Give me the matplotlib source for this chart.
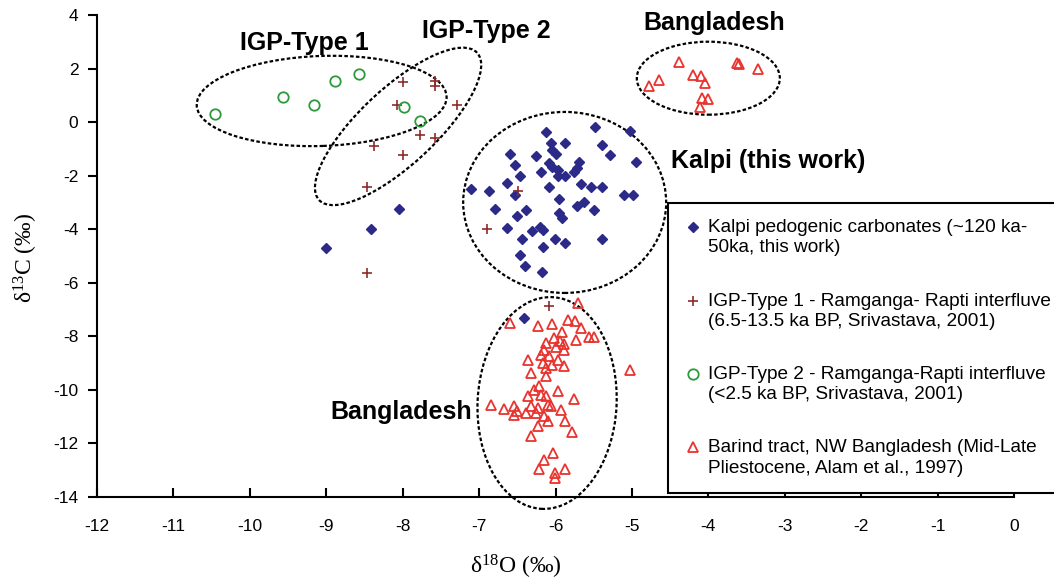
import matplotlib
matplotlib.use('Agg')
import matplotlib.pyplot as plt
import matplotlib.transforms as mtransforms
from matplotlib.patches import Ellipse
from matplotlib.legend_handler import HandlerLine2D

plt.rcParams['font.family'] = ['Liberation Sans', 'DejaVu Sans']
plt.rcParams['axes.unicode_minus'] = False
plt.rcParams['mathtext.fontset'] = 'custom'
plt.rcParams['mathtext.rm'] = 'Liberation Serif'
plt.rcParams['mathtext.it'] = 'Liberation Serif:italic'

# Kalpi pedogenic carbonates (this work)
kalpi_x = [-5.48, -6.13, -5.03, -6.06, -5.88, -5.39, -6.04, -5.99, -6.60, -6.26, -5.29,
           -4.95, -6.53, -6.08, -5.69, -6.04, -5.97, -5.72, -6.19, -5.76, -6.47, -5.97,
           -5.88, -6.64, -6.08, -5.67, -5.54, -5.39, -7.10, -6.87, -6.53, -5.10, -4.98,
           -5.95, -5.63, -5.72, -6.79, -6.39, -5.49, -5.95, -6.50, -5.91, -6.64, -6.31,
           -6.20, -6.17, -6.44, -6.01, -5.88, -5.39, -6.17, -6.47, -6.40, -6.18,
           -8.05, -8.41, -9.00, -6.41]
kalpi_y = [-0.19, -0.38, -0.32, -0.79, -0.79, -0.85, -1.04, -1.19, -1.20, -1.26, -1.22,
           -1.50, -1.62, -1.51, -1.50, -1.66, -1.78, -1.72, -1.85, -1.85, -2.01, -2.01,
           -2.01, -2.26, -2.43, -2.31, -2.43, -2.43, -2.51, -2.56, -2.72, -2.72, -2.74,
           -2.88, -3.00, -3.13, -3.24, -3.30, -3.30, -3.38, -3.50, -3.59, -3.94, -4.05,
           -3.90, -4.02, -4.37, -4.37, -4.52, -4.37, -4.67, -4.98, -5.39, -5.60,
           -3.25, -3.99, -4.71, -7.32]

# IGP-Type 1 (Srivastava, 2001)
igp1_x = [-8.00, -7.58, -7.58, -8.07, -7.29, -7.77, -7.58, -8.37, -7.99, -8.47, -8.47,
          -6.90, -6.49, -6.09]
igp1_y = [1.51, 1.55, 1.33, 0.64, 0.64, -0.49, -0.60, -0.91, -1.22, -2.41, -5.62,
          -3.99, -2.59, -6.88]

# IGP-Type 2 (Srivastava, 2001)
igp2_x = [-10.46, -9.56, -9.16, -8.88, -8.57, -7.98, -7.77]
igp2_y = [0.30, 0.95, 0.64, 1.55, 1.79, 0.58, 0.06]

# Barind tract, NW Bangladesh (Alam et al., 1997)
bang_x = [-5.71, -6.60, -6.23, -6.05, -5.84, -5.75, -5.67, -5.91, -5.56, -5.50, -5.73,
          -6.02, -6.13, -5.94, -5.89, -6.15, -6.00, -5.89, -6.19, -6.08, -6.36, -5.97,
          -6.17, -6.04, -5.89, -6.13, -6.32, -6.13, -5.02, -6.21, -6.28, -5.97, -6.19,
          -6.36, -6.13, -5.76, -6.84, -6.68, -6.54, -6.50, -6.32, -6.23, -6.10, -6.06,
          -5.93, -6.54, -6.39, -6.26, -6.15, -6.10, -5.88, -6.23, -6.32, -5.78, -6.03,
          -6.15, -6.21, -5.88, -6.01, -6.01,
          -4.78, -4.64, -4.38, -4.20, -4.10, -4.05, -4.08, -4.01, -4.11, -3.63, -3.60, -3.35]
bang_y = [-6.76, -7.50, -7.63, -7.53, -7.38, -7.44, -7.69, -7.82, -8.03, -8.03, -8.15,
          -8.06, -8.25, -8.19, -8.28, -8.50, -8.38, -8.50, -8.69, -8.75, -8.87, -8.87,
          -9.00, -9.06, -9.12, -9.18, -9.37, -9.49, -9.27, -9.87, -9.99, -10.05, -10.18,
          -10.24, -10.24, -10.34, -10.55, -10.71, -10.61, -10.80, -10.59, -10.68, -10.55, -10.61,
          -10.76, -10.92, -10.86, -10.86, -10.99, -11.17, -11.17, -11.36, -11.73, -11.58, -12.36,
          -12.60, -12.95, -12.95, -13.10, -13.29,
          1.33, 1.57, 2.23, 1.76, 1.72, 1.45, 0.89, 0.85, 0.58, 2.20, 2.18, 1.97]

legend_labels = [
    'Kalpi pedogenic carbonates (~120 ka-\n50ka, this work)',
    'IGP-Type 1 - Ramganga- Rapti interfluve\n(6.5-13.5 ka BP, Srivastava, 2001)',
    'IGP-Type 2 - Ramganga-Rapti interfluve\n(<2.5 ka BP, Srivastava, 2001)',
    'Barind tract, NW Bangladesh (Mid-Late\nPliestocene, Alam et al., 1997)',
]

# group outlines: centre (data), width/height (px), angle
groups = [
    ((-9.06, 0.79), 250, 90, 2),
    ((-8.06, -0.16), 216, 76, 43),
    ((-5.88, -3.00), 203, 181, 0),
    ((-4.00, 1.64), 143, 73, 0),
    ((-6.11, -10.49), 139, 212, -3),
]
group_labels = [
    ('IGP-Type 1', -9.28, 2.97),
    ('IGP-Type 2', -6.90, 3.41),
    ('Bangladesh', -3.92, 3.71),
    ('Kalpi (this work)', -3.22, -1.47),
    ('Bangladesh', -8.02, -10.84),
]

fig = plt.figure(figsize=(10.54, 5.86), dpi=100)
ax = fig.add_axes([97 / 1054, 1 - 497 / 586, 917 / 1054, 482 / 586])

h1, = ax.plot(kalpi_x, kalpi_y, 'D', color='#2B2A88', ms=5.5, ls='none')
h2, = ax.plot(igp1_x, igp1_y, '+', color='#8E2B2B', ms=7, mew=1.2, ls='none')
h3, = ax.plot(igp2_x, igp2_y, 'o', mfc='none', mec='#2A9A3A', ms=7.5, mew=1.3, ls='none')
h4, = ax.plot(bang_x, bang_y, '^', mfc='none', mec='#E8332E', ms=7.5, mew=1.3, ls='none')

for (cx, cy), w, h, ang in groups:
    tr = fig.dpi_scale_trans + mtransforms.ScaledTranslation(cx, cy, ax.transData)
    e = Ellipse((0, 0), w / 100, h / 100, angle=ang, transform=tr, fill=False,
                ec='black', lw=1.6, ls=(0, (1.6, 1.0)), clip_on=False)
    ax.add_patch(e)

for txt, tx, ty in group_labels:
    ax.text(tx, ty, txt, fontsize=18, fontweight='bold', ha='center', va='center')

ax.set_xlim(-12, 0)
ax.set_ylim(-14, 4)
ax.set_xticks(range(-12, 1))
ax.set_yticks(range(-14, 5, 2))
for s in ['top', 'right']:
    ax.spines[s].set_visible(False)
for s in ['left', 'bottom']:
    ax.spines[s].set_linewidth(1.5)
ax.tick_params(axis='x', direction='in', length=6.5, width=1.5, pad=16, labelsize=12.5)
ax.tick_params(axis='y', direction='out', length=6.5, width=1.5, pad=7, labelsize=12.5)

ax.set_xlabel(r'$\mathrm{\delta^{18}O\ (‰)}$', fontsize=17)
ax.set_ylabel(r'$\mathrm{\delta^{13}C\ (‰)}$', fontsize=17)
ax.xaxis.set_label_coords((516 - 97) / 917, -(553 - 497) / 482)
ax.yaxis.set_label_coords(-(97 - 40) / 917, 0.496)


class FirstLineHandler(HandlerLine2D):
    def create_artists(self, legend, orig_handle, xdescent, ydescent, width, height,
                       fontsize, trans):
        arts = super().create_artists(legend, orig_handle, xdescent, ydescent, width,
                                      height, fontsize, trans)
        shift = mtransforms.Affine2D().translate(0, 10.5)
        for a in arts:
            a.set_transform(a.get_transform() + shift)
        return arts


leg = ax.legend([h1, h2, h3, h4], legend_labels, loc='upper left',
                bbox_to_anchor=(668 / 1054, 1 - 203 / 586), bbox_transform=fig.transFigure,
                borderaxespad=0, fontsize=13.7, frameon=True, fancybox=False,
                edgecolor='black', framealpha=1, handlelength=0.9, handletextpad=0.35,
                labelspacing=1.9, borderpad=0.85,
                handler_map={matplotlib.lines.Line2D: FirstLineHandler()})
leg.get_frame().set_linewidth(1.5)
for t in leg.get_texts():
    t.set_linespacing(1.25)

fig.savefig('out.png', dpi=100)
